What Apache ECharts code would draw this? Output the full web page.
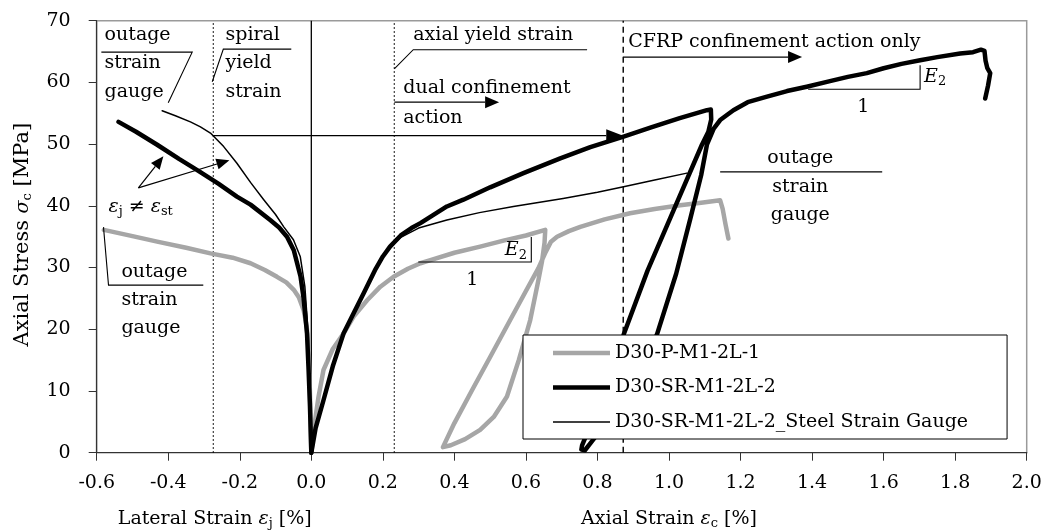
<!DOCTYPE html>
<html>
<head>
<meta charset="utf-8">
<script src="https://cdn.jsdelivr.net/npm/echarts@6/dist/echarts.min.js"></script>
<style>
  html, body { margin: 0; padding: 0; background: #fff; }
  #chart { width: 1046px; height: 532px; }
</style>
</head>
<body>
<div id="chart"></div>
<script>
// ---- Axis ranges ----
const xMin = -0.6, xMax = 2.0, xStep = 0.2;
const yMin = 0, yMax = 70, yStep = 10;

// ---- Series names ----
const namePlain = 'D30-P-M1-2L-1';
const nameSpiral = 'D30-SR-M1-2L-2';
const nameSteel = 'D30-SR-M1-2L-2_Steel Strain Gauge';

// ---- D30-P-M1-2L-1 (lateral branch, negative strain) ----
const plainLateral = [
  [0, 0], [-0.002, 5], [-0.004, 10], [-0.0075, 16.6], [-0.013, 20.5], [-0.0215, 23.1],
  [-0.035, 25.2], [-0.049, 26.4], [-0.07, 27.6], [-0.096, 28.5], [-0.13, 29.6],
  [-0.17, 30.7], [-0.22, 31.6], [-0.282, 32.3], [-0.35, 33.2], [-0.431, 34.2],
  [-0.5, 35.1], [-0.58, 36.1]
];
// ---- D30-P-M1-2L-1 (axial branch with unload / reload loop) ----
const plainAxial = [
  [0, 0], [0.01, 5], [0.02, 9], [0.034, 13.4], [0.06, 16.8], [0.09, 19.3], [0.12, 22.2],
  [0.156, 24.7], [0.193, 26.9], [0.23, 28.5], [0.27, 29.8], [0.305, 30.7], [0.333, 31.2],
  [0.4, 32.4], [0.472, 33.4], [0.54, 34.4], [0.6, 35.2], [0.654, 36.1],
  [0.652, 34], [0.645, 31], [0.635, 28], [0.612, 21.5], [0.58, 15], [0.547, 9.1],
  [0.51, 5.8], [0.472, 3.7], [0.43, 2.2], [0.39, 1.2], [0.368, 0.9],
  [0.365, 1.1], [0.4, 4.8], [0.45, 10.2], [0.5, 15.5], [0.556, 21.5], [0.6, 26.2],
  [0.635, 29.9], [0.655, 32.5], [0.67, 34.2], [0.687, 35], [0.72, 35.9], [0.752, 36.6],
  [0.82, 37.8], [0.891, 38.8], [0.96, 39.5], [1.031, 40.1], [1.09, 40.5], [1.143, 40.9],
  [1.146, 41.1], [1.15, 39.5], [1.158, 37], [1.166, 34.7]
];

// ---- D30-SR-M1-2L-2 (lateral branch) ----
const spiralLateral = [
  [0, 0], [-0.004, 8], [-0.008, 14], [-0.012, 19.3], [-0.0215, 25], [-0.03, 28.5],
  [-0.049, 32.8], [-0.068, 35], [-0.09, 36.5], [-0.115, 37.7], [-0.17, 40.2],
  [-0.208, 41.5], [-0.26, 43.6], [-0.319, 45.8], [-0.37, 47.6], [-0.431, 49.9],
  [-0.49, 52], [-0.539, 53.6]
];
// ---- D30-SR-M1-2L-2 (axial branch with unload / reload) ----
const spiralAxial = [
  [0, 0], [0.012, 4], [0.034, 8.5], [0.06, 14], [0.09, 19.3], [0.12, 22.8], [0.146, 25.8],
  [0.18, 29.8], [0.2, 31.8], [0.22, 33.4], [0.25, 35.2], [0.28, 36.4], [0.305, 37.2],
  [0.379, 39.9], [0.425, 41], [0.5, 43], [0.593, 45.3], [0.696, 47.7], [0.78, 49.5],
  [0.873, 51.2], [0.95, 52.7], [1.03, 54.2], [1.106, 55.5], [1.117, 55.6],
  [1.118, 54], [1.11, 52], [1.092, 49.9], [1.013, 39.3], [0.94, 29.5], [0.873, 19.1],
  [0.8, 9], [0.77, 3], [0.757, 1.2], [0.755, 0.5], [0.765, 0.4], [0.78, 1.5],
  [0.8, 3], [0.86, 9], [0.92, 13.5], [0.966, 19.1], [1.02, 29], [1.06, 38], [1.09, 45],
  [1.106, 49.9], [1.125, 52.5], [1.143, 53.9], [1.18, 55.5], [1.22, 56.8], [1.274, 57.7],
  [1.33, 58.6], [1.385, 59.3], [1.45, 60.2], [1.5, 60.9], [1.553, 61.5], [1.6, 62.3],
  [1.65, 63], [1.702, 63.6], [1.75, 64.1], [1.814, 64.7], [1.85, 64.9], [1.872, 65.3],
  [1.882, 65.1], [1.885, 63.5], [1.89, 62.3], [1.898, 61.5], [1.892, 59.5], [1.884, 57.4]
];

// ---- D30-SR-M1-2L-2 steel strain gauges ----
const steelLateral = [
  [0, 0], [-0.004, 8], [-0.008, 15], [-0.012, 22], [-0.018, 26.9], [-0.031, 31.8],
  [-0.05, 34.5], [-0.077, 36.6], [-0.1, 38.6], [-0.133, 41], [-0.17, 43.8],
  [-0.208, 46.9], [-0.245, 49.6], [-0.282, 51.8], [-0.31, 52.8], [-0.338, 53.6],
  [-0.38, 54.6], [-0.417, 55.4]
];
const steelAxial = [
  [0, 0], [0.012, 4], [0.034, 8.5], [0.06, 14], [0.09, 19.3], [0.12, 22.8], [0.146, 25.8],
  [0.18, 29.8], [0.2, 31.8], [0.22, 33.3], [0.25, 34.9], [0.3, 36.4], [0.379, 37.7],
  [0.47, 38.9], [0.565, 39.9], [0.704, 41.2], [0.8, 42.2], [0.873, 43.1], [0.96, 44.2],
  [1.05, 45.3]
];

// ---- Reference strains (vertical lines) ----
const spiralYieldStrain = -0.274;
const axialYieldStrain = 0.232;
const cfrpOnlyStrain = 0.872;

// ---- Look ----
const FONT = '"DejaVu Serif", "Liberation Serif", serif';
const GRAY = '#a6a6a6';
const BLACK = '#000';
const THICK = 4.5, THIN = 1.5;

function curve(name, data, color, width, z) {
  return {
    type: 'line', name: name, data: data,
    symbol: 'none', showSymbol: false, smooth: false,
    lineStyle: { color: color, width: width, join: 'round', cap: 'round' },
    itemStyle: { color: color },
    emphasis: { disabled: true },
    animation: false, z: z
  };
}

// legend key: a flat bar as thick as the series line
function legendKey(name, color, width) {
  return {
    name: name,
    icon: 'path://M0,0H57V' + width + 'H0Z',
    itemStyle: { color: color, borderWidth: 0 }
  };
}

const chart = echarts.init(document.getElementById('chart'), null, { renderer: 'canvas' });

const fmt = v => (Math.abs(v) < 1e-9 ? 0 : v).toFixed(1);

chart.setOption({
  backgroundColor: '#fff',
  animation: false,
  grid: {
    left: 96.7, top: 20.7, right: 19.3, bottom: 79.3,
    show: true, borderColor: '#9a9a9a', borderWidth: 1.5, backgroundColor: 'transparent'
  },
  xAxis: {
    type: 'value', min: xMin, max: xMax, interval: xStep,
    axisLine: { show: true, onZero: false, lineStyle: { color: '#333', width: 1.2 } },
    axisTick: { show: true, inside: false, length: 8, lineStyle: { color: '#333', width: 1 } },
    axisLabel: { margin: 21, color: '#000', fontFamily: FONT, fontSize: 19, formatter: fmt },
    splitLine: { show: false }
  },
  yAxis: {
    type: 'value', min: yMin, max: yMax, interval: yStep,
    axisLine: { show: true, onZero: false, lineStyle: { color: '#333', width: 1.2 } },
    axisTick: { show: true, inside: false, length: 8, lineStyle: { color: '#333', width: 1 } },
    axisLabel: { margin: 26, color: '#000', fontFamily: FONT, fontSize: 19 },
    splitLine: { show: false }
  },
  legend: {
    data: [
      legendKey(namePlain, GRAY, THICK),
      legendKey(nameSpiral, BLACK, THICK),
      legendKey(nameSteel, BLACK, THIN)
    ],
    orient: 'vertical', left: 523, top: 335,
    padding: [7, 39, 6, 30],
    itemWidth: 57, itemHeight: 14, itemGap: 12.5, symbolKeepAspect: true,
    backgroundColor: '#fff', borderColor: '#000', borderWidth: 1, borderRadius: 0,
    textStyle: { color: '#000', fontFamily: FONT, fontSize: 19, lineHeight: 22 },
    selectedMode: false, z: 10
  },
  series: [
    curve(namePlain, plainLateral, GRAY, THICK, 2),
    curve(namePlain, plainAxial, GRAY, THICK, 2),
    curve(nameSpiral, spiralLateral, BLACK, THICK, 3),
    curve(nameSpiral, spiralAxial, BLACK, THICK, 3),
    curve(nameSteel, steelLateral, BLACK, THIN, 4),
    curve(nameSteel, steelAxial, BLACK, THIN, 4)
  ]
});

// ---- Annotations, given in data units and placed through the grid's scales ----
const verticalRefs = [
  { x: spiralYieldStrain, dash: [1.5, 2.5], w: 1.2 },
  { x: 0, dash: null, w: 1.3 },
  { x: axialYieldStrain, dash: [1.5, 2.5], w: 1.2 },
  { x: cfrpOnlyStrain, dash: [6, 4], w: 1.4 }
];

const leaderLines = [
  [[-0.587, 64.9], [-0.333, 64.9], [-0.4, 56.7]],
  [[-0.056, 65.4], [-0.246, 65.4], [-0.277, 60.1]],
  [[0.771, 65.3], [0.285, 65.3], [0.232, 62.2]],
  [[1.389, 58.9], [1.702, 58.9], [1.702, 62.8]],
  [[1.143, 45.5], [1.596, 45.5]],
  [[0.299, 30.9], [0.615, 30.9], [0.615, 34.96]],
  [[-0.581, 36.55], [-0.567, 27.15], [-0.302, 27.15]]
];

const arrows = [
  { from: [spiralYieldStrain, 51.37], to: [cfrpOnlyStrain, 51.37], len: 17, hw: 6.5 },
  { from: [axialYieldStrain, 56.8], to: [0.525, 56.8], len: 14, hw: 6 },
  { from: [cfrpOnlyStrain, 64.1], to: [1.372, 64.1], len: 14, hw: 6 },
  { from: [-0.4835, 42.9], to: [-0.4136, 48.05], len: 13, hw: 5.5 },
  { from: [-0.4835, 42.9], to: [-0.229, 47.4], len: 13, hw: 5.5 }
];

const notes = [
  { t: 'outage', x: -0.578, y: 67.7, a: 'left' },
  { t: 'strain', x: -0.578, y: 63.15, a: 'left' },
  { t: 'gauge', x: -0.578, y: 58.45, a: 'left' },
  { t: 'spiral', x: -0.24, y: 67.7, a: 'left' },
  { t: 'yield', x: -0.24, y: 63.15, a: 'left' },
  { t: 'strain', x: -0.24, y: 58.45, a: 'left' },
  { t: 'axial yield strain', x: 0.285, y: 67.7, a: 'left' },
  { t: 'dual confinement', x: 0.257, y: 59.1, a: 'left' },
  { t: 'action', x: 0.257, y: 54.2, a: 'left' },
  { t: 'CFRP confinement action only', x: 0.886, y: 66.56, a: 'left' },
  { t: '{i|E}{s|2}', x: 1.713, y: 60.9, a: 'left' },
  { t: '1', x: 1.543, y: 56.0, a: 'center' },
  { t: 'outage', x: 1.367, y: 47.75, a: 'center' },
  { t: 'strain', x: 1.367, y: 43.05, a: 'center' },
  { t: 'gauge', x: 1.367, y: 38.5, a: 'center' },
  { t: '{i|E}{s|2}', x: 0.603, y: 32.8, a: 'right' },
  { t: '1', x: 0.45, y: 28.0, a: 'center' },
  { t: '{i|ε}{s|j}{n| ≠ }{i|ε}{s|st}', x: -0.567, y: 39.8, a: 'left' },
  { t: 'outage', x: -0.531, y: 29.3, a: 'left' },
  { t: 'strain', x: -0.531, y: 24.75, a: 'left' },
  { t: 'gauge', x: -0.531, y: 20.2, a: 'left' }
];

const richStyles = {
  i: { fontFamily: FONT, fontSize: 19, fontStyle: 'italic', fill: '#000' },
  n: { fontFamily: FONT, fontSize: 19, fill: '#000' },
  s: { fontFamily: FONT, fontSize: 13, fill: '#000', padding: [10, 0, 0, 0] }
};

function toPx(p) { return chart.convertToPixel({ gridIndex: 0 }, p); }

function textEl(text, x, y, align, z, rotation, size) {
  return {
    type: 'text', x: x, y: y, rotation: rotation || 0, z: z, silent: true,
    style: {
      text: text, rich: richStyles, fill: '#000',
      fontFamily: FONT, fontSize: size || 19,
      align: align, verticalAlign: 'middle'
    }
  };
}

const g = [];
verticalRefs.forEach(r => {
  const a = toPx([r.x, yMin]), b = toPx([r.x, yMax]);
  g.push({
    type: 'line', z: 1, silent: true,
    shape: { x1: a[0], y1: a[1], x2: b[0], y2: b[1] },
    style: { stroke: '#000', lineWidth: r.w, lineDash: r.dash || null }
  });
});
leaderLines.forEach(pts => {
  g.push({
    type: 'polyline', z: 5, silent: true,
    shape: { points: pts.map(toPx) },
    style: { stroke: '#000', lineWidth: 1.1, fill: null }
  });
});
arrows.forEach(ar => {
  const a = toPx(ar.from), b = toPx(ar.to);
  const dx = b[0] - a[0], dy = b[1] - a[1], L = Math.hypot(dx, dy);
  const ux = dx / L, uy = dy / L, nx = -uy, ny = ux;
  const bx = b[0] - ux * ar.len, by = b[1] - uy * ar.len;
  g.push({
    type: 'line', z: 5, silent: true,
    shape: { x1: a[0], y1: a[1], x2: bx, y2: by },
    style: { stroke: '#000', lineWidth: 1.2 }
  });
  g.push({
    type: 'polygon', z: 5, silent: true,
    shape: { points: [[b[0], b[1]], [bx + nx * ar.hw, by + ny * ar.hw], [bx - nx * ar.hw, by - ny * ar.hw]] },
    style: { fill: '#000' }
  });
});
notes.forEach(n => {
  const p = toPx([n.x, n.y]);
  g.push(textEl(n.t, p[0], p[1], n.a, 6));
});

// Axis titles
const yMid = toPx([xMin, 35]);
g.push(textEl('Axial Stress {i|σ}{s|c} [MPa]', 23, yMid[1] - 2, 'center', 6, Math.PI / 2, 21));
const latPos = toPx([-0.27, 0]);
const axPos = toPx([1.0, 0]);
g.push(textEl('Lateral Strain {i|ε}{s|j} [%]', latPos[0], 519, 'center', 6, 0, 19));
g.push(textEl('Axial Strain {i|ε}{s|c} [%]', axPos[0], 519, 'center', 6, 0, 19));

chart.setOption({ graphic: { elements: g } });
</script>
</body>
</html>
